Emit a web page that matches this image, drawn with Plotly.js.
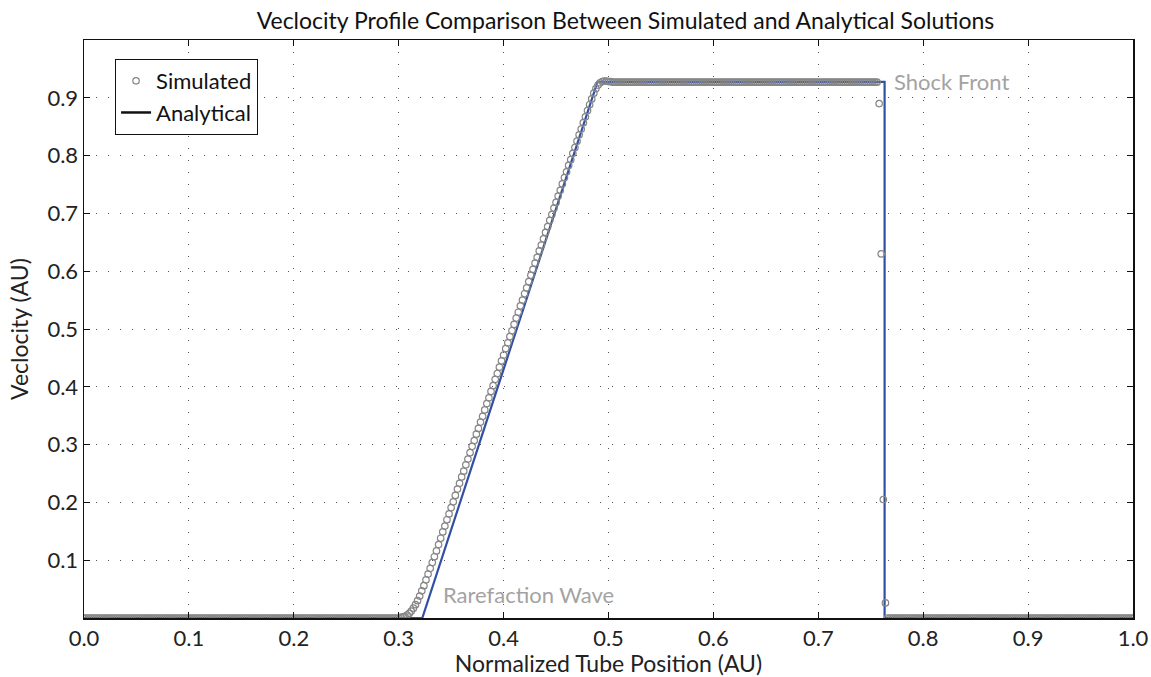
<!DOCTYPE html>
<html><head><meta charset="utf-8">
<script src="https://cdn.plot.ly/plotly-3.0.1.min.js"></script>
<style>body{margin:0;background:#fff}#chart{width:1151px;height:677px}</style>
</head><body><div id="chart"></div>
<script>
// Simulated solution: grid of 501 cells from 0 to 1
const simStart = 0.0;
const simStep = 0.002;
const simVelocity = [
0,0,0,0,0,0,0,0,0,0,0,0,0,0,0,0,0,0,0,0,0,0,0,0,0,0,0,0,0,0,0,0,0,0,0,0,0,0,0,0,0,0,0,0,0,0,0,0,0,0,
0,0,0,0,0,0,0,0,0,0,0,0,0,0,0,0,0,0,0,0,0,0,0,0,0,0,0,0,0,0,0,0,0,0,0,0,0,0,0,0,0,0,0,0,0,0,0,0,0,0,
0,0,0,0,0,0,0,0,0,0,0,0,0,0,0,0,0,0,0,0,0,0,0,0,0,0,0,0,0,0,0,0,0,0,0,0,0,0,0,0,0,0,0,0,0,0,0,0,0,0,
0.000,0.001,0.002,0.003,0.005,0.008,0.012,0.017,0.023,0.030,0.038,0.047,0.056,0.066,0.076,0.086,0.096,0.106,0.116,0.127,
0.138,0.149,0.159,0.170,0.180,0.191,0.201,0.212,0.223,0.233,0.244,0.254,0.265,0.275,0.286,0.297,0.307,0.318,0.328,0.339,
0.349,0.360,0.371,0.381,0.392,0.402,0.413,0.423,0.434,0.445,0.455,0.466,0.476,0.487,0.497,0.508,0.519,0.529,0.540,0.550,
0.561,0.571,0.582,0.593,0.603,0.614,0.624,0.635,0.645,0.656,0.667,0.677,0.688,0.698,0.709,0.719,0.730,0.740,0.751,0.762,
0.772,0.783,0.793,0.804,0.814,0.825,0.836,0.846,0.857,0.867,0.878,0.888,0.898,0.908,0.916,
0.922,0.926,0.928,0.929,0.929,0.928,0.928,0.927,
0.927,0.927,0.927,0.927,0.927,0.927,0.927,0.927,0.927,0.927,0.927,0.927,0.927,0.927,0.927,0.927,0.927,0.927,0.927,0.927,0.927,
0.927,0.927,0.927,0.927,0.927,0.927,0.927,0.927,0.927,0.927,0.927,0.927,0.927,0.927,0.927,0.927,0.927,0.927,0.927,0.927,0.927,
0.927,0.927,0.927,0.927,0.927,0.927,0.927,0.927,0.927,0.927,0.927,0.927,0.927,0.927,0.927,0.927,0.927,0.927,0.927,0.927,0.927,
0.927,0.927,0.927,0.927,0.927,0.927,0.927,0.927,0.927,0.927,0.927,0.927,0.927,0.927,0.927,0.927,0.927,0.927,0.927,0.927,0.927,
0.927,0.927,0.927,0.927,0.927,0.927,0.927,0.927,0.927,0.927,0.927,0.927,0.927,0.927,0.927,0.927,0.927,0.927,0.927,0.927,0.927,
0.927,0.927,0.927,0.927,0.927,0.927,0.927,0.927,0.927,0.927,0.927,0.927,0.927,0.927,0.927,0.927,0.927,0.927,0.927,0.927,0.927,
0.890,0.630,0.205,0.026,
0,0,0,0,0,0,0,0,0,0,0,0,0,0,0,0,0,0,0,0,0,0,0,0,0,0,0,0,0,0,0,0,0,0,0,0,0,0,0,0,
0,0,0,0,0,0,0,0,0,0,0,0,0,0,0,0,0,0,0,0,0,0,0,0,0,0,0,0,0,0,0,0,0,0,0,0,0,0,0,0,
0,0,0,0,0,0,0,0,0,0,0,0,0,0,0,0,0,0,0,0,0,0,0,0,0,0,0,0,0,0,0,0,0,0,0,0,0,0
];
const simPosition = simVelocity.map((v, i) => +(simStart + i * simStep).toFixed(3));

// Analytical solution breakpoints
const anaPosition = [0.0, 0.3225, 0.4895, 0.7632, 0.7632, 1.0];
const anaVelocity = [0.0, 0.0, 0.9274, 0.9274, 0.0, 0.0];

const xTicks = [0.0,0.1,0.2,0.3,0.4,0.5,0.6,0.7,0.8,0.9,1.0];
const yTicks = [0.1,0.2,0.3,0.4,0.5,0.6,0.7,0.8,0.9];

const FONT = 'Lato, "Open Sans", sans-serif';

const traces = [
  {x: anaPosition, y: anaVelocity, type: 'scatter', mode: 'lines', name: 'Analytical',
   line: {color: '#3150a3', width: 2.2}, showlegend: false, hoverinfo: 'skip'},
  {x: simPosition, y: simVelocity, type: 'scatter', mode: 'markers', name: 'Simulated',
   marker: {symbol: 'circle-open', size: 6.5, color: '#868686', line: {width: 1.2, color: '#868686'}},
   legendrank: 1},
  {x: [null], y: [null], type: 'scatter', mode: 'lines', name: 'Analytical',
   line: {color: '#111', width: 2.5}, legendrank: 2}
];

const axisCommon = {
  showline: true, linecolor: '#111', linewidth: 1.5, mirror: 'ticks',
  ticks: 'inside', ticklen: 6, tickcolor: '#111', tickwidth: 1,
  showgrid: true, gridcolor: '#555', gridwidth: 1, griddash: '1px,11px',
  zeroline: false, tickfont: {family: FONT, size: 22, color: '#222'}
};

const layout = {
  width: 1151, height: 677,
  margin: {l: 84, r: 18, t: 40, b: 59},
  paper_bgcolor: '#fff', plot_bgcolor: '#fff',
  font: {family: FONT, color: '#222'},
  title: {text: 'Veclocity Profile Comparison Between Simulated and Analytical Solutions',
          font: {family: FONT, size: 23, color: '#111'},
          x: 0.5434, xanchor: 'center', xref: 'container', y: 0.969, yanchor: 'middle', yref: 'container'},
  xaxis: Object.assign({}, axisCommon, {
    range: [0, 1], tickvals: xTicks, ticktext: xTicks.map(v => v.toFixed(1)),
    title: {text: 'Normalized Tube Position (AU)', font: {family: FONT, size: 23, color: '#222'}, standoff: 4}
  }),
  yaxis: Object.assign({}, axisCommon, {
    range: [0, 1], tickvals: yTicks, ticktext: yTicks.map(v => v.toFixed(1)),
    title: {text: 'Veclocity (AU)', font: {family: FONT, size: 23, color: '#222'}, standoff: 12}
  }),
  showlegend: true,
  legend: {x: 0.0296, y: 0.967, xanchor: 'left', yanchor: 'top',
           bgcolor: '#fff', bordercolor: '#111', borderwidth: 1,
           font: {family: FONT, size: 22, color: '#111'}, itemwidth: 30, tracegroupgap: 0},
  annotations: [
    {x: 0.770, y: 0.929, xref: 'x', yref: 'y', text: 'Shock Front', showarrow: false,
     xanchor: 'left', yanchor: 'middle', font: {family: FONT, size: 22, color: '#a3a3a3'}},
    {x: 0.340, y: 0.040, xref: 'x', yref: 'y', text: 'Rarefaction Wave', showarrow: false,
     xanchor: 'left', yanchor: 'middle', font: {family: FONT, size: 22, color: '#a3a3a3'}}
  ]
};

Plotly.newPlot('chart', traces, layout, {displayModeBar: false, staticPlot: true});
</script>
</body></html>
